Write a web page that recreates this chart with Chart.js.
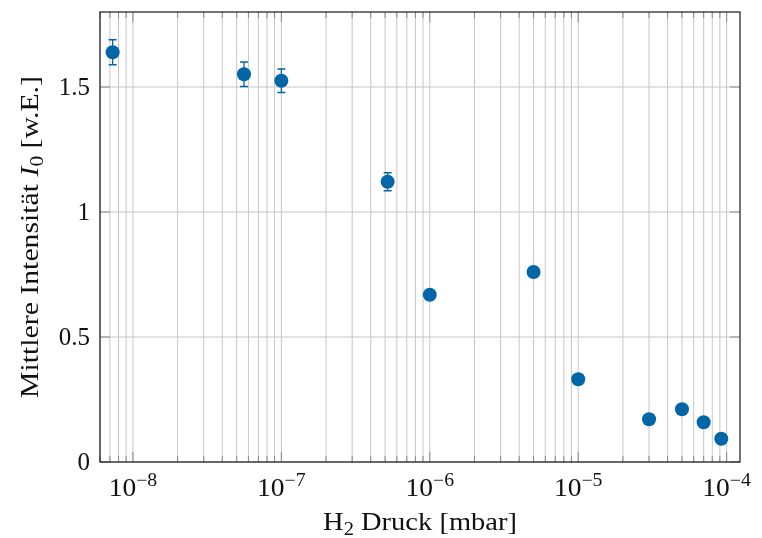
<!DOCTYPE html>
<html>
<head>
<meta charset="utf-8">
<script src="https://cdn.jsdelivr.net/npm/chart.js@4/dist/chart.umd.min.js"></script>
<style>
  html, body { margin: 0; padding: 0; background: #ffffff; }
  #wrap { width: 762px; height: 538px; }
</style>
</head>
<body>
<div id="wrap"><canvas id="c" width="762" height="538"></canvas></div>
<script>
// H2 pressure (mbar) and mean intensity I0 (arb. units) with uncertainties
const pressure     = [7.3e-9, 5.6e-8, 1.0e-7, 5.2e-7, 1.0e-6, 5.0e-6, 1.0e-5, 3.0e-5, 5.0e-5, 7.0e-5, 9.2e-5];
const intensity    = [1.639, 1.551, 1.525, 1.121, 0.669, 0.760, 0.331, 0.171, 0.211, 0.159, 0.093];
const intensityErr = [0.050, 0.049, 0.047, 0.036, 0.015, 0.020, 0.012, 0.010, 0.012, 0.010, 0.008];

// Axis ticks
const xDecadeExponents = [-8, -7, -6, -5, -4];
const yTickValues = [0, 0.5, 1, 1.5];
const yTickLabels = ['0', '0.5', '1', '1.5'];

const xTitleParts = [
  { text: 'H', kind: 'normal' },
  { text: '2', kind: 'sub' },
  { text: ' Druck [mbar]', kind: 'normal' }
];
const yTitleParts = [
  { text: 'Mittlere Intensität ', kind: 'normal' },
  { text: 'I', kind: 'italic' },
  { text: '0', kind: 'sub' },
  { text: ' [w.E.]', kind: 'normal' }
];

const FAMILY = '"Liberation Serif", "DejaVu Serif", serif';
const BASE = 25;
const SMALL = 18;
const MARK = '#0066a8';

function fontFor(kind) {
  if (kind === 'italic') return `italic ${BASE}px ${FAMILY}`;
  if (kind === 'sub' || kind === 'sup') return `${SMALL}px ${FAMILY}`;
  return `${BASE}px ${FAMILY}`;
}
function offsetFor(kind) {
  if (kind === 'sub') return 5;
  if (kind === 'sup') return -10;
  return 0;
}
// draws a run of text pieces centred on cx with a shared baseline,
// optionally widened horizontally by `stretch`
function drawRich(ctx, parts, cx, baseline, stretch) {
  const sx = stretch || 1;
  let total = 0;
  parts.forEach(p => { ctx.font = fontFor(p.kind); p.w = ctx.measureText(p.text).width; total += p.w; });
  ctx.save();
  ctx.translate(cx, baseline);
  ctx.scale(sx, 1);
  let x = -total / 2;
  ctx.textAlign = 'left';
  ctx.textBaseline = 'alphabetic';
  parts.forEach(p => {
    ctx.font = fontFor(p.kind);
    ctx.fillText(p.text, x, offsetFor(p.kind));
    x += p.w;
  });
  ctx.restore();
}

function minorValues(min, max) {
  const out = [];
  for (let e = Math.floor(Math.log10(min)); e <= Math.ceil(Math.log10(max)); e++) {
    for (let m = 1; m <= 9; m++) {
      const v = m * Math.pow(10, e);
      if (v >= min && v <= max) out.push({ v, major: m === 1 });
    }
  }
  return out;
}

const gridPlugin = {
  id: 'gridPlugin',
  beforeDatasetsDraw(chart) {
    const { ctx, chartArea: a, scales: { x, y } } = chart;
    ctx.save();
    ctx.strokeStyle = '#c6c6c6';
    ctx.lineWidth = 1;
    minorValues(x.min, x.max).forEach(t => {
      const px = x.getPixelForValue(t.v);
      ctx.beginPath(); ctx.moveTo(px, a.top); ctx.lineTo(px, a.bottom); ctx.stroke();
    });
    yTickValues.forEach(v => {
      const py = y.getPixelForValue(v);
      ctx.beginPath(); ctx.moveTo(a.left, py); ctx.lineTo(a.right, py); ctx.stroke();
    });
    ctx.restore();
  }
};

const errorBarPlugin = {
  id: 'errorBarPlugin',
  beforeDatasetsDraw(chart) {
    const { ctx, scales: { x, y } } = chart;
    ctx.save();
    ctx.strokeStyle = MARK;
    ctx.lineWidth = 1.3;
    pressure.forEach((p, i) => {
      const px = x.getPixelForValue(p);
      const top = y.getPixelForValue(intensity[i] + intensityErr[i]);
      const bot = y.getPixelForValue(intensity[i] - intensityErr[i]);
      ctx.beginPath();
      ctx.moveTo(px, top); ctx.lineTo(px, bot);
      ctx.moveTo(px - 4, top); ctx.lineTo(px + 4, top);
      ctx.moveTo(px - 4, bot); ctx.lineTo(px + 4, bot);
      ctx.stroke();
    });
    ctx.restore();
  }
};

const framePlugin = {
  id: 'framePlugin',
  afterDraw(chart) {
    const { ctx, chartArea: a, scales: { x, y } } = chart;
    ctx.save();
    // inward ticks on all four sides
    ctx.strokeStyle = '#8a8a8a';
    ctx.lineWidth = 1;
    minorValues(x.min, x.max).forEach(t => {
      const px = x.getPixelForValue(t.v);
      const len = t.major ? 10 : 6;
      ctx.beginPath();
      ctx.moveTo(px, a.bottom); ctx.lineTo(px, a.bottom - len);
      ctx.moveTo(px, a.top); ctx.lineTo(px, a.top + len);
      ctx.stroke();
    });
    yTickValues.forEach(v => {
      const py = y.getPixelForValue(v);
      ctx.beginPath();
      ctx.moveTo(a.left, py); ctx.lineTo(a.left + 10, py);
      ctx.moveTo(a.right, py); ctx.lineTo(a.right - 10, py);
      ctx.stroke();
    });
    // frame
    ctx.strokeStyle = '#1a1a1a';
    ctx.lineWidth = 1.2;
    ctx.strokeRect(a.left, a.top, a.right - a.left, a.bottom - a.top);

    ctx.fillStyle = '#111111';
    // x tick labels: 10 with raised exponent
    xDecadeExponents.forEach(e => {
      const px = x.getPixelForValue(Math.pow(10, e));
      drawRich(ctx, [{ text: '10', kind: 'normal' }, { text: '\u2212' + Math.abs(e), kind: 'sup' }], px, 496, 1.1);
    });
    // y tick labels
    ctx.font = `${BASE}px ${FAMILY}`;
    ctx.textAlign = 'right';
    ctx.textBaseline = 'middle';
    yTickValues.forEach((v, i) => {
      ctx.fillText(yTickLabels[i], a.left - 10, y.getPixelForValue(v) + 1);
    });
    // axis titles
    drawRich(ctx, xTitleParts, (a.left + a.right) / 2, 530, 1.14);
    ctx.save();
    ctx.translate(38, (a.top + a.bottom) / 2);
    ctx.rotate(-Math.PI / 2);
    drawRich(ctx, yTitleParts, 0, 0, 1.19);
    ctx.restore();
    ctx.restore();
  }
};

new Chart(document.getElementById('c'), {
  type: 'scatter',
  data: {
    datasets: [{
      data: pressure.map((p, i) => ({ x: p, y: intensity[i] })),
      backgroundColor: MARK,
      borderColor: MARK,
      borderWidth: 0,
      pointRadius: 7,
      pointHoverRadius: 7,
      clip: false
    }]
  },
  options: {
    responsive: false,
    animation: false,
    events: [],
    layout: { padding: { top: 12, right: 22, left: 0, bottom: 0 } },
    plugins: { legend: { display: false }, tooltip: { enabled: false } },
    scales: {
      x: {
        type: 'logarithmic',
        min: 6.0e-9,
        max: 1.23e-4,
        grid: { display: false },
        border: { display: false },
        ticks: { display: false },
        afterFit(scale) { scale.height = 76; }
      },
      y: {
        type: 'linear',
        min: 0,
        max: 1.8,
        grid: { display: false },
        border: { display: false },
        ticks: { display: false },
        afterFit(scale) { scale.width = 100; }
      }
    }
  },
  plugins: [gridPlugin, errorBarPlugin, framePlugin]
});
</script>
</body>
</html>
